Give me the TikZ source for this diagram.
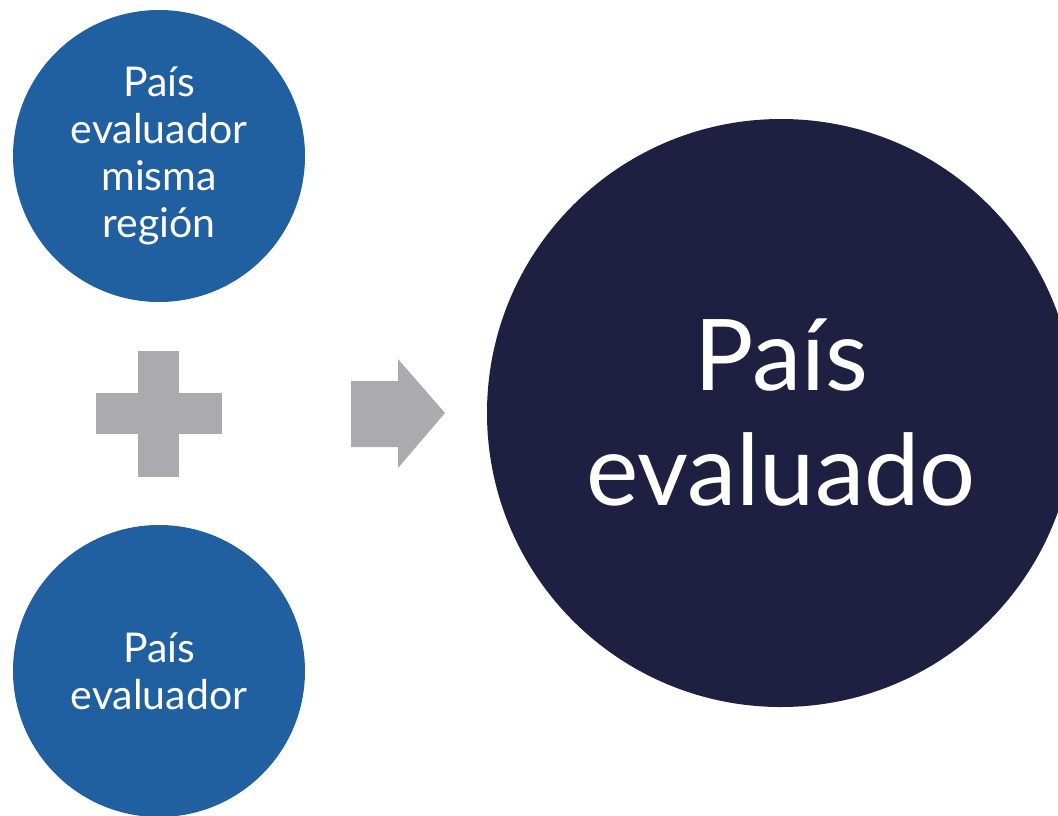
\documentclass[tikz,border=0pt]{standalone}
\usepackage{fontspec}
\setmainfont{Lato}
\usepackage{xcolor}
\usepackage{tikz}
\usetikzlibrary{calc}
\definecolor{azul}{RGB}{32,96,160}
\definecolor{marino}{RGB}{31,32,65}
\definecolor{gris}{RGB}{171,171,175}

\begin{document}
\begin{tikzpicture}[x=1pt,y=-1pt,
        circulo/.style={circle, fill=azul, minimum size=292pt, inner sep=0pt, text=white, align=center, font=\fontsize{41}{47}\selectfont},
        grande/.style={circle, fill=marino, minimum size=588pt, inner sep=0pt, text=white, align=center, font=\fontsize{99}{115}\selectfont}]
                \useasboundingbox (0,0) rectangle (1058,815);
                \clip (0,0) rectangle (1058,815);
                \node[circulo] (region) at (159,156) {País\\evaluador\\misma\\región};
                \node[circulo] (evaluador) at (159,671) {País\\evaluador};
                \node[grande] (evaluado) at (781,413) {País\\evaluado};
                % signo mas
                \fill[gris] (138,351) rectangle (179,477);
                \fill[gris] (96,393) rectangle (222,434);
                % flecha
                \fill[gris] (351,381) -- (398,381) -- (398,359) -- (445,413) -- (398,468) -- (398,447) -- (351,447) -- cycle;
            \end{tikzpicture}
\end{document}
